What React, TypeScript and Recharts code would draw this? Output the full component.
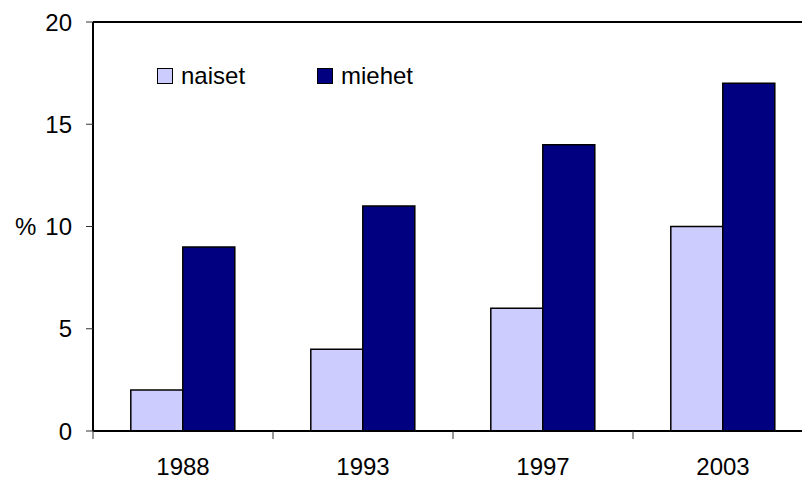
import React from "react";
import {
  BarChart, Bar, XAxis, YAxis, Legend, ReferenceLine
} from "recharts";

const years = ["1988", "1993", "1997", "2003"];
const naiset = [2, 4, 6, 10];
const miehet = [9, 11, 14, 17];
const seriesOrder = ["naiset", "miehet"];
const yTicks = [0, 5, 10, 15, 20];

const data = years.map((year, i) => ({ year, naiset: naiset[i], miehet: miehet[i] }));

const FONT = "'Liberation Sans', Arial, sans-serif";

// tick line sits on the category boundary, label in the middle
const YearTick = ({ x, y, payload }: any) => {
  const half = payload && payload.offset ? payload.offset : 90;
  return (
    <g>
      <line x1={x - half} y1={y - 27} x2={x - half} y2={y - 19} stroke="#333" strokeWidth={1} />
      <text x={x} y={y} dy={17} textAnchor="middle" fontSize={24} fontFamily={FONT} fill="#000">
        {payload.value}
      </text>
    </g>
  );
};

const LegendBox = ({ payload }: any) => (
  <div style={{ display: "flex", fontFamily: FONT, fontSize: 24, color: "#000", lineHeight: "24px" }}>
    {(payload || []).map((p: any, i: number) => (
      <div key={p.value} style={{ display: "flex", alignItems: "center", width: i === 0 ? 160 : "auto" }}>
        <div style={{ width: 14, height: 14, background: p.color, border: "1px solid #000", marginRight: 8 }} />
        <span>{p.value}</span>
      </div>
    ))}
  </div>
);

export default function App() {
  return (
    <div style={{ position: "absolute", left: 0, top: 0, width: 802, height: 480, overflow: "hidden", background: "#fff" }}>
      <BarChart
        width={830}
        height={480}
        data={data}
        margin={{ top: 22, right: 17, bottom: 19, left: 0 }}
        barCategoryGap="21%"
        barGap={0}
      >
        <XAxis
          dataKey="year"
          height={30}
          axisLine={{ stroke: "#000", strokeWidth: 2 }}
          tickLine={false}
          tickSize={8}
          tickMargin={19}
          tick={<YearTick />}
          interval={0}
        />
        <YAxis
          width={93}
          domain={[0, 20]}
          ticks={yTicks}
          interval={0}
          axisLine={{ stroke: "#000", strokeWidth: 2 }}
          tickLine={{ stroke: "#333" }}
          tickSize={7}
          tickMargin={14}
          tick={{ fontSize: 24, fontFamily: FONT, fill: "#000" }}
          label={{ value: "%", position: "insideLeft", offset: 15, fontSize: 24, fontFamily: FONT, fill: "#000" }}
        />
        <ReferenceLine y={20} stroke="#000" strokeWidth={2} />
        <Legend
          verticalAlign="middle"
          align="center"
          content={<LegendBox />}
          itemSorter={(item: any) => seriesOrder.indexOf(item.value)}
          wrapperStyle={{ position: "absolute", top: 64, left: 157, width: 400 }}
        />
        <Bar dataKey="naiset" name="naiset" fill="#CCCCFF" stroke="#000" strokeWidth={1.5} isAnimationActive={false} />
        <Bar dataKey="miehet" name="miehet" fill="#000080" stroke="#000" strokeWidth={1.5} isAnimationActive={false} />
      </BarChart>
    </div>
  );
}
